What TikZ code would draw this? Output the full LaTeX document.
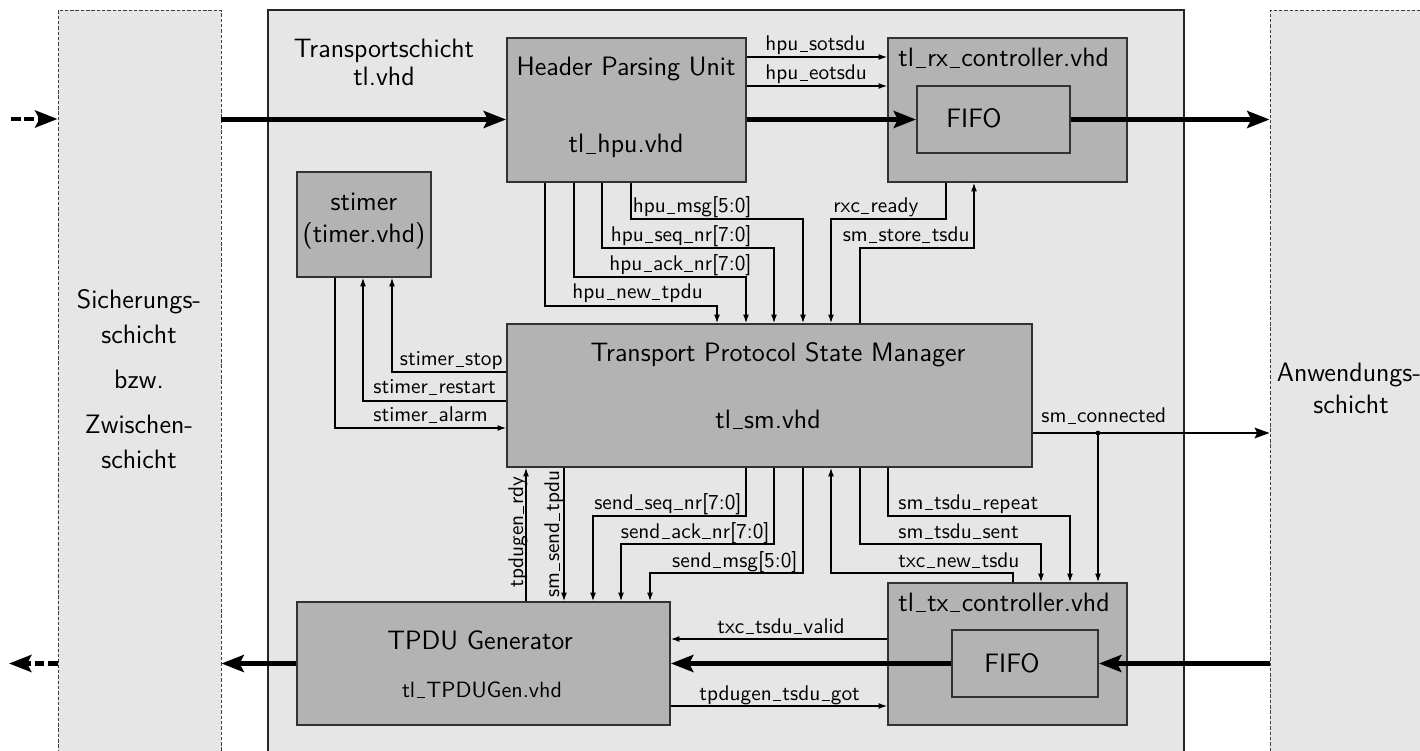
\documentclass[tikz,border=0pt]{standalone}
\usepackage{fontspec}
\usetikzlibrary{arrows.meta,fit}
\definecolor{bgl}{RGB}{230,230,230}
\definecolor{blkfill}{RGB}{179,179,179}
\definecolor{bord}{RGB}{50,50,50}
\newcommand{\usc}{\kern0.06em\rule[-0.6pt]{0.38em}{0.4pt}\kern0.06em}
\tikzset{
  layerbox/.style={draw=black!75, dash pattern=on 1.6pt off 0.9pt, line width=0.45pt, fill=bgl, inner sep=0pt},
  mainbox/.style={draw=black!85, line width=0.6pt, fill=bgl, inner sep=0pt},
  blk/.style={draw=bord, fill=blkfill, line width=0.9pt, inner sep=0pt},
  sig/.style={line width=0.5pt, -{Latex[length=4pt,width=2.8pt]}},
  conn/.style={line width=0.9pt, -{Stealth[length=7pt,width=5pt,inset=1.2pt]}},
  bus/.style={line width=2.1pt, -{Stealth[length=10.5pt,width=8pt,inset=2pt]}},
  extdash/.style={dash pattern=on 4.5pt off 1.8pt},
  lbl/.style={font=\sffamily\fontsize{10}{12}\selectfont, inner sep=0pt},
  ttl/.style={font=\sffamily\fontsize{12.5}{15}\selectfont, inner sep=0pt},
}
\begin{document}
\begin{tikzpicture}[x=0.47pt,y=-0.47pt,font=\sffamily]
\useasboundingbox (0,0) rectangle (1420,751);
\clip (0,0) rectangle (1420,751);
\fill[white] (0,0) rectangle (1420,751);

% layers
\node[layerbox, fit={(58,10)(221,790)}] (sich) {};
\node[layerbox, fit={(1270,10)(1450,790)}] (anw) {};
\node[mainbox, fit={(268,10)(1184,790)}] (tl) {};

% layer texts
\node[ttl, anchor=base] (s1) at (139,309) {Sicherungs-};
\node[ttl, anchor=base] (s2) at (139,344) {schicht};
\node[ttl, anchor=base] (s3) at (139,388) {bzw.};
\node[ttl, anchor=base] (s4) at (139,433) {Zwischen-};
\node[ttl, anchor=base] (s5) at (139,468) {schicht};
\node[ttl, anchor=base] (a1) at (1349,381) {Anwendungs-};
\node[ttl, anchor=base] (a2) at (1351,414) {schicht};
\node[ttl, anchor=base] (t1) at (384,58) {Transportschicht};
\node[ttl, anchor=base] (t2) at (384,86) {tl.vhd};

% blocks
\node[blk, fit={(507,38)(746,182)}] (hpu) {};
\node[blk, fit={(888,38)(1127,182)}] (rx) {};
\node[blk, fit={(917,86)(1070,153)}] (rxfifo) {};
\node[blk, fit={(297,172)(431,277)}] (stimer) {};
\node[blk, fit={(507,324)(1032,467)}] (tpsm) {};
\node[blk, fit={(297,602)(670,725)}] (tpdu) {};
\node[blk, fit={(888,583)(1127,725)}] (tx) {};
\node[blk, fit={(952,630)(1098,697)}] (txfifo) {};

% block texts
\node[ttl, anchor=base] (hpu1) at (626,76) {Header Parsing Unit};
\node[ttl, anchor=base] (hpu2) at (626,153) {tl\usc{}hpu.vhd};
\node[ttl, anchor=base west] (rx1) at (898,67) {tl\usc{}rx\usc{}controller.vhd};
\node[ttl, anchor=base] (rx2) at (974,128) {FIFO};
\node[ttl, anchor=base] (st1) at (364,211) {stimer};
\node[ttl, anchor=base] (st2) at (364,243) {(timer.vhd)};
\node[ttl, anchor=base] (sm1) at (778,362) {Transport Protocol State Manager};
\node[ttl, anchor=base] (sm2) at (768,428) {tl\usc{}sm.vhd};
\node[ttl, anchor=base] (tg1) at (480,649) {TPDU Generator};
\node[lbl, anchor=base, font=\sffamily\fontsize{10.4}{12}\selectfont] (tg2) at (482,697) {tl\usc{}TPDUGen.vhd};
\node[ttl, anchor=base west] (tx1) at (898,611) {tl\usc{}tx\usc{}controller.vhd};
\node[ttl, anchor=base] (tx2) at (1012,672) {FIFO};

% data path
\coordinate (inL) at (11,119);
\coordinate (outL) at (9,663.5);
\draw[bus, extdash] (inL) -- (sich.west |- inL);
\draw[bus] (sich.east |- rxfifo.west) -- (hpu.west |- rxfifo.west);
\draw[bus] (hpu.east |- rxfifo.west) -- (rxfifo.west);
\draw[bus] (rxfifo.east) -- (anw.west |- rxfifo.east);
\draw[bus] (anw.west |- txfifo.east) -- (txfifo.east);
\draw[bus] (txfifo.west) -- (tpdu.east |- txfifo.west);
\draw[bus] (tpdu.west |- txfifo.west) -- (sich.east |- txfifo.west);
\draw[bus, extdash] (sich.west |- outL) -- (outL);

% hpu -> rx
\draw[sig] (hpu.east |- 0,57) -- (rx.west |- 0,57);
\draw[sig] (hpu.east |- 0,86) -- (rx.west |- 0,86);
\node[lbl, anchor=base west] (l_sot) at (765,51) {hpu\usc{}sotsdu};
\node[lbl, anchor=base west] (l_eot) at (765,80) {hpu\usc{}eotsdu};

% hpu -> tpsm
\draw[sig] (hpu.south -| 545,0) |- (717,306) -- (tpsm.north -| 717,0);
\draw[sig] (hpu.south -| 574,0) |- (746,277) -- (tpsm.north -| 746,0);
\draw[sig] (hpu.south -| 602,0) |- (774,248) -- (tpsm.north -| 774,0);
\draw[sig] (hpu.south -| 631,0) |- (803,219) -- (tpsm.north -| 803,0);
\node[lbl, anchor=base west] (l_new) at (572,299) {hpu\usc{}new\usc{}tpdu};
\node[lbl, anchor=base east] (l_ack) at (752,271) {hpu\usc{}ack\usc{}nr[7:0]};
\node[lbl, anchor=base east] (l_seq) at (752,242) {hpu\usc{}seq\usc{}nr[7:0]};
\node[lbl, anchor=base east] (l_msg) at (752,213) {hpu\usc{}msg[5:0]};

% rx <-> tpsm
\draw[sig] (rx.south -| 946,0) |- (831,219) -- (tpsm.north -| 831,0);
\draw[sig] (tpsm.north -| 860,0) |- (974,248) -- (rx.south -| 974,0);
\node[lbl, anchor=base west] (l_rxc) at (833,213) {rxc\usc{}ready};
\node[lbl, anchor=base east] (l_sto) at (970,242) {sm\usc{}store\usc{}tsdu};

% stimer
\draw[sig] (tpsm.west |- 0,372) -| (stimer.south -| 392,0);
\draw[sig] (tpsm.west |- 0,401) -| (stimer.south -| 363,0);
\draw[sig] (stimer.south -| 335,0) |- (tpsm.west |- 0,428);
\node[lbl, anchor=base east] (l_stop) at (503,366) {stimer\usc{}stop};
\node[lbl, anchor=base west] (l_rst) at (373,394) {stimer\usc{}restart};
\node[lbl, anchor=base west] (l_alm) at (373,422) {stimer\usc{}alarm};

% tpsm <-> tpdu
\draw[sig] (tpdu.north -| 526,0) -- (tpsm.south -| 526,0);
\draw[sig] (tpsm.south -| 564,0) -- (tpdu.north -| 564,0);
\draw[sig] (tpsm.south -| 746,0) |- (593,516) -- (tpdu.north -| 593,0);
\draw[sig] (tpsm.south -| 774,0) |- (621,544) -- (tpdu.north -| 621,0);
\draw[sig] (tpsm.south -| 803,0) |- (650,573) -- (tpdu.north -| 650,0);
\node[lbl, rotate=90, anchor=base west] (l_rdy) at (523,588) {tpdugen\usc{}rdy};
\node[lbl, rotate=90, anchor=base west] (l_snd) at (559,598) {sm\usc{}send\usc{}tpdu};
\node[lbl, anchor=base east] (l_sseq) at (742,509) {send\usc{}seq\usc{}nr[7:0]};
\node[lbl, anchor=base east] (l_sack) at (770,538) {send\usc{}ack\usc{}nr[7:0]};
\node[lbl, anchor=base east] (l_smsg) at (798,567) {send\usc{}msg[5:0]};

% tpsm <-> tx
\draw[sig] (tx.north -| 1013,0) |- (831,573) -- (tpsm.south -| 831,0);
\draw[sig] (tpsm.south -| 860,0) |- (1041,544) -- (tx.north -| 1041,0);
\draw[sig] (tpsm.south -| 888,0) |- (1070,516) -- (tx.north -| 1070,0);
\node[lbl, anchor=base west] (l_rep) at (898,509) {sm\usc{}tsdu\usc{}repeat};
\node[lbl, anchor=base west] (l_sent) at (898,538) {sm\usc{}tsdu\usc{}sent};
\node[lbl, anchor=base west] (l_txn) at (898,567) {txc\usc{}new\usc{}tsdu};

% sm_connected
\coordinate (junc) at (1098,433);
\draw[conn] (tpsm.east |- junc) -- (anw.west |- junc);
\fill (junc) circle (2.4);
\draw[sig] (junc) -- (tx.north -| junc);
\node[lbl, anchor=base west] (l_con) at (1041,423) {sm\usc{}connected};

% tx <-> tpdu
\draw[sig] (tx.west |- 0,639) -- (tpdu.east |- 0,639);
\draw[sig] (tpdu.east |- 0,706) -- (tx.west |- 0,706);
\node[lbl, anchor=base west] (l_val) at (717,633) {txc\usc{}tsdu\usc{}valid};
\node[lbl, anchor=base west] (l_got) at (699,700) {tpdugen\usc{}tsdu\usc{}got};
\end{tikzpicture}
\end{document}
